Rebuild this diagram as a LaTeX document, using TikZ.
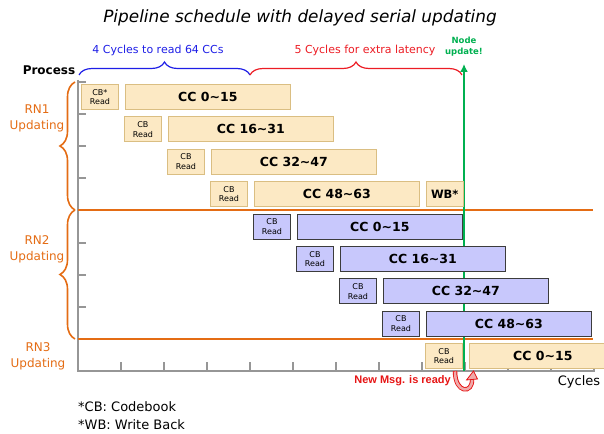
\documentclass[tikz,border=0pt]{standalone}
\usepackage{fontspec}
\setmainfont{DejaVu Sans}
\setsansfont{DejaVu Sans}
\newfontfamily\arialfont{Liberation Sans}
\usetikzlibrary{positioning,decorations.pathreplacing,arrows.meta}
\definecolor{fillyel}{RGB}{252,233,196}
\definecolor{lineyel}{RGB}{218,190,130}
\definecolor{fillblu}{RGB}{200,200,252}
\definecolor{lineblu}{RGB}{60,60,60}
\definecolor{rnorange}{RGB}{228,108,20}
\definecolor{updgreen}{RGB}{0,176,80}
\definecolor{bracered}{RGB}{236,28,36}
\definecolor{braceblue}{RGB}{30,30,230}
\definecolor{axisgray}{RGB}{150,150,150}
\definecolor{msgred}{RGB}{230,20,20}
\definecolor{msgpink}{RGB}{240,170,170}
\begin{document}
\begin{tikzpicture}[x=1pt,y=-1pt,>=latex,
  every node/.style={inner sep=0pt},
  cb/.style={draw=line#1,fill=fill#1,line width=0.9pt,anchor=north west,
    minimum width=37pt,minimum height=25pt,align=center,
    font=\fontsize{8}{9.5}\selectfont},
  cc/.style={draw=line#1,fill=fill#1,line width=0.9pt,
    minimum width=165pt,minimum height=25pt,
    font=\bfseries\fontsize{12.5}{15}\selectfont},
  axis/.style={draw=axisgray,line width=1.2pt},
  sep/.style={draw=rnorange,line width=2.8pt},
  rnlab/.style={text=rnorange,align=center,font=\fontsize{12}{16}\selectfont},
  rnbrace/.style={draw=rnorange,line width=1.6pt,decorate,
    decoration={brace,amplitude=15pt}},
  topbrace/.style={draw=#1,line width=1.2pt,decorate,
    decoration={brace,amplitude=13pt}}]
  \clip (0,0) rectangle (604,433);
  % title and header
  \node[font=\itshape\fontsize{16.9}{20}\selectfont] (title) at (300,18)
    {Pipeline schedule with delayed serial updating};
  \node[font=\bfseries\fontsize{12}{14}\selectfont] (proc) at (49,70) {Process};
  \coordinate (b0) at (79,75);
  \coordinate (b1) at (250,75);
  \coordinate (b2) at (462,75);
  \draw[topbrace=braceblue] (b0) -- (b1);
  \draw[topbrace=bracered] (b1) -- (b2);
  \node[text=braceblue,font=\fontsize{11}{13}\selectfont] (readlab) at (158,50)
    {4 Cycles to read 64 CCs};
  \node[text=bracered,font=\fontsize{11}{13}\selectfont] (latlab) at (365,50)
    {5 Cycles for extra latency};
  \node[text=updgreen,align=center,font=\bfseries\fontsize{8.5}{11}\selectfont]
    (updlab) at (464,47) {Node\\update!};
  % axes
  \draw[axis] (78,80) -- (78,371) -- (595,371);
  \foreach \k in {1,...,12}
    \draw[axis] ({78+43*\k},371) -- ++(0,-9);
  \foreach \t in {82,114,146,178,243,275,307}
    \draw[axis] (78,\t) -- ++(8,0);
  \draw[sep] (78,210) -- (593,210);
  \draw[sep] (78,339) -- (593,339);
  \draw[rnbrace] (75,210) -- (75,82);
  \draw[rnbrace] (75,339) -- (75,210);
  \node[rnlab] (rn1) at (37,118) {RN1\\Updating};
  \node[rnlab] (rn2) at (37,249) {RN2\\Updating};
  \node[rnlab] (rn3) at (38,356) {RN3\\Updating};
  % node update line
  \coordinate (ready) at (464,371);
  \coordinate (upd) at (464,64);
  \draw[updgreen,line width=2.6pt,-{Latex[length=8pt,width=8pt]}] (ready) -- (upd);
  % pipeline rows
  \foreach \i/\cbt/\a/\b/\c in {0/CB*/0/15/yel,1/CB/16/31/yel,2/CB/32/47/yel,
      3/CB/48/63/yel,4/CB/0/15/blu,5/CB/16/31/blu,6/CB/32/47/blu,7/CB/48/63/blu}{
    \node[cb=\c] (cb\i) at ({81+43*\i},{84+32.4*\i}) {\cbt\\Read};
    \node[cc=\c,right=6pt of cb\i] (cc\i) {CC \a\textasciitilde\b};
  }
  \node[cb=yel,right=6pt of cc3,font=\bfseries\fontsize{11.5}{14}\selectfont] (wb) {WB*};
  \node[cb=yel] (cb8) at (425,343.2) {CB\\Read};
  \node[cc=yel,minimum width=147pt,right=6pt of cb8] (cc8) {CC 0\textasciitilde15};
  % bottom
  \node[font=\fontsize{13}{15}\selectfont] (cyc) at (579,382) {Cycles};
  \node[anchor=east,text=msgred,font=\arialfont\bfseries\fontsize{11}{13}\selectfont]
    (newmsg) at (451,381) {New Msg. is ready};
  \draw[draw=msgred,line width=4.4pt] (455,371) .. controls (455,394) and (473,394) .. (472,379);
  \draw[draw=msgpink,line width=2.6pt] (455,371.5) .. controls (455,394) and (473,394) .. (472,379);
  \filldraw[fill=msgpink,draw=msgred,line width=0.8pt] (466.5,380) -- (477.5,379) -- (473.5,371) -- cycle;
  \node[anchor=base west,font=\fontsize{13}{15}\selectfont] (cbnote) at (78,411) {*CB: Codebook};
  \node[anchor=base west,font=\fontsize{13}{15}\selectfont] (wbnote) at (78,429) {*WB: Write Back};
\end{tikzpicture}
\end{document}
